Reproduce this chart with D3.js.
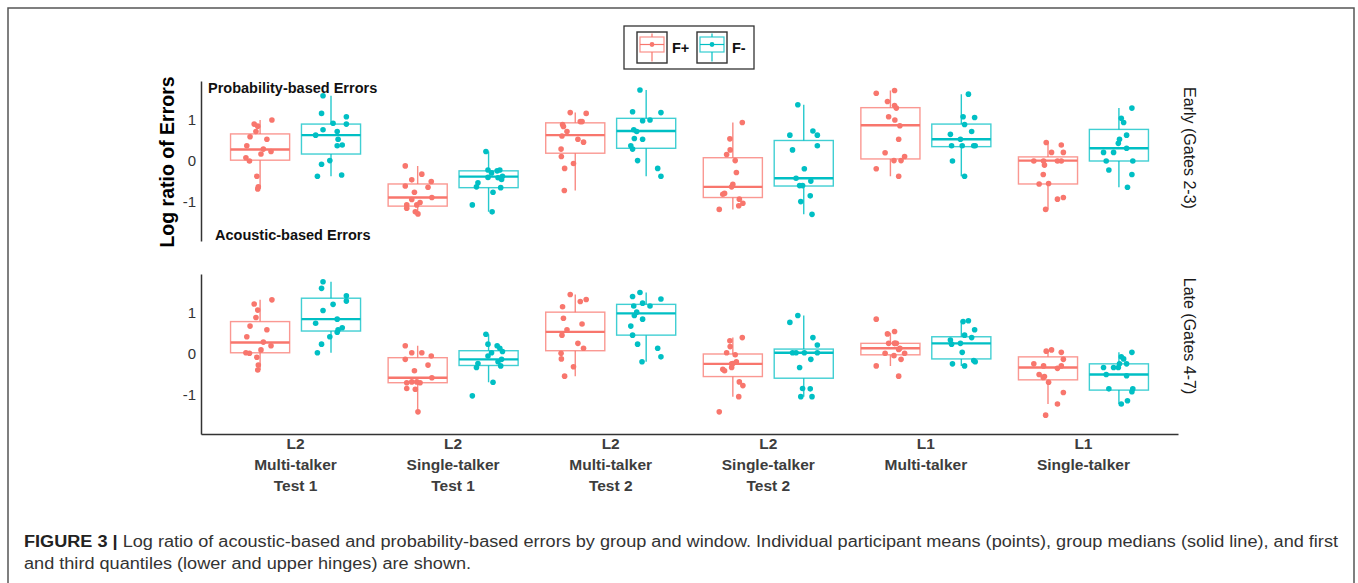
<!DOCTYPE html>
<html>
<head>
<meta charset="utf-8">
<script src="https://cdn.jsdelivr.net/npm/d3@7"></script>
<style>
  body { margin: 0; background: #fff; }
  text { font-family: "Liberation Sans", Arial, Helvetica, sans-serif; }
</style>
</head>
<body>
<script>
// categories on the x axis (multi-line labels)
const categories = [
  ["L2", "Multi-talker", "Test 1"],
  ["L2", "Single-talker", "Test 1"],
  ["L2", "Multi-talker", "Test 2"],
  ["L2", "Single-talker", "Test 2"],
  ["L1", "Multi-talker"],
  ["L1", "Single-talker"]
];
const groupNames = ["F+", "F-"];
const windowNames = ["Early (Gates 2-3)", "Late (Gates 4-7)"];
const yTicks = [-1, 0, 1];

// box stats per category: [lower whisker, q1, median, q3, upper whisker]
const earlyFplusStats = [
  [-0.68, 0.02, 0.28, 0.66, 1.0],
  [-1.29, -1.10, -0.89, -0.56, -0.12],
  [-0.72, 0.19, 0.63, 0.93, 1.18],
  [-1.18, -0.89, -0.63, 0.08, 0.94],
  [-0.37, 0.05, 0.87, 1.30, 1.72],
  [-1.18, -0.56, 0.01, 0.10, 0.45]
];
const earlyFminusStats = [
  [-0.37, 0.17, 0.63, 0.90, 1.59],
  [-1.24, -0.65, -0.38, -0.24, 0.23],
  [-0.37, 0.31, 0.73, 1.04, 1.73],
  [-1.30, -0.61, -0.42, 0.50, 1.37],
  [-0.37, 0.35, 0.53, 0.90, 1.63],
  [-0.64, 0.0, 0.31, 0.77, 1.29]
];
const lateFplusStats = [
  [-0.39, 0.03, 0.28, 0.79, 1.32],
  [-1.41, -0.70, -0.58, -0.09, 0.20],
  [-0.54, 0.08, 0.54, 1.02, 1.45],
  [-1.04, -0.55, -0.24, 0.0, 0.40],
  [-0.29, -0.02, 0.14, 0.26, 0.52],
  [-1.22, -0.63, -0.33, -0.07, 0.10]
];
const lateFminusStats = [
  [0.03, 0.56, 0.85, 1.36, 1.76],
  [-0.69, -0.28, -0.13, 0.08, 0.48],
  [-0.19, 0.46, 0.99, 1.21, 1.50],
  [-1.04, -0.59, 0.03, 0.12, 0.94],
  [-0.29, -0.12, 0.26, 0.42, 0.81],
  [-1.22, -0.88, -0.50, -0.24, 0.04]
];

// participant means per category
const earlyFplusPoints = [
  [1.0, 0.9, 0.85, 0.72, 0.59, 0.53, 0.37, 0.29, 0.23, 0.17, 0.08, 0.0, -0.37, -0.63, -0.68],
  [-0.12, -0.32, -0.46, -0.5, -0.61, -0.64, -0.76, -0.89, -0.94, -1.01, -1.07, -1.07, -1.15, -1.24, -1.29],
  [1.18, 1.16, 0.96, 0.89, 0.84, 0.96, 0.72, 0.61, 0.53, 0.46, 0.29, 0.11, -0.06, -0.18, -0.72],
  [0.94, 0.54, 0.27, 0.16, 0.01, -0.28, -0.57, -0.63, -0.79, -0.81, -0.93, -1.03, -1.09, -1.18],
  [1.65, 1.72, 1.45, 1.35, 1.29, 1.08, 1.0, 0.86, 0.53, 0.2, 0.11, 0.01, 0.01, -0.19, -0.37],
  [0.45, 0.39, 0.21, 0.21, 0, 0, 0, 0, -0.1, -0.33, -0.56, -0.55, -0.89, -0.93, -1.18]
];
const earlyFminusPoints = [
  [1.59, 1.16, 1.08, 0.92, 0.9, 0.76, 0.72, 0.63, 0.53, 0.39, 0.37, 0.01, -0.08, -0.37, -0.34],
  [0.23, -0.22, -0.24, -0.22, -0.29, -0.37, -0.4, -0.45, -0.41, -0.53, -0.63, -0.65, -0.76, -1.07, -1.24],
  [1.73, 1.2, 1.18, 0.98, 1.0, 0.76, 0.72, 0.55, 0.53, 0.37, 0.29, 0.01, -0.18, -0.37],
  [1.37, 0.63, 0.73, 0.63, 0.27, 0.37, -0.19, -0.42, -0.49, -0.6, -0.6, -0.85, -0.99, -1.3],
  [1.63, 1.08, 1.06, 0.89, 0.72, 0.65, 0.53, 0.37, 0.37, 0.37, 0.37, 0, -0.37],
  [1.29, 1.04, 0.94, 0.63, 0.53, 0.43, 0.21, 0.21, 0.31, 0, 0, -0.22, -0.33, -0.64]
];
const lateFplusPoints = [
  [1.32, 1.22, 1.07, 0.89, 0.68, 0.59, 0.42, 0.29, 0.2, 0.1, 0.03, 0.02, -0.08, -0.27, -0.39],
  [0.2, 0.03, 0.03, -0.05, -0.13, -0.27, -0.41, -0.58, -0.68, -0.7, -0.7, -0.68, -0.84, -0.86, -1.41],
  [1.45, 1.33, 1.28, 1.15, 0.87, 0.73, 0.59, 0.46, 0.26, 0.14, 0.02, -0.12, -0.31, -0.54],
  [0.4, 0.32, 0.18, 0.03, -0.02, -0.19, -0.23, -0.33, -0.41, -0.37, -0.68, -0.77, -1.04, -1.41, -0.24],
  [0.85, 0.55, 0.49, 0.26, 0.26, 0.26, 0.26, 0.14, 0.11, 0.02, 0.02, -0.13, -0.04, -0.29, -0.54],
  [0.07, 0.04, 0.1, -0.13, -0.24, -0.29, -0.35, -0.29, -0.55, -0.57, -0.5, -0.69, -0.94, -1.22, -1.49]
];
const lateFminusPoints = [
  [1.76, 1.6, 1.42, 1.21, 1.29, 1.06, 0.85, 0.75, 0.59, 0.64, 0.53, 0.42, 0.24, 0.03],
  [0.48, 0.24, 0.2, 0.14, 0.03, 0.06, -0.05, -0.13, -0.19, -0.23, -0.33, -0.29, -0.69, -1.02],
  [1.5, 1.4, 1.34, 1.24, 1.17, 1.17, 1.02, 0.94, 0.85, 0.68, 0.46, 0.24, 0.14, -0.07, -0.19],
  [0.94, 0.77, 0.4, 0.22, 0.03, 0.03, 0.03, 0.03, -0.13, -0.33, -0.84, -0.85, -1.04, -1.04],
  [0.81, 0.79, 0.59, 0.46, 0.4, 0.34, 0.26, 0.24, 0.04, -0.16, -0.19, -0.24, -0.29],
  [0.04, -0.07, -0.12, -0.24, -0.24, -0.33, -0.33, -0.33, -0.53, -0.5, -0.85, -0.85, -0.92, -1.14, -1.22]
];

// horizontal jitter of each point, as a fraction of the half box width
const fplusJitter = [
  [0.40, -0.20, -0.08, -0.14, -0.34, 0.23, -0.45, 0.11, 0.37, 0.03, -0.48, -0.36, -0.11, -0.06, -0.08],
  [-0.42, 0.14, -0.2, 0.46, -0.42, 0.35, -0.11, 0.48, -0.2, 0.08, -0.37, -0.03, -0.37, -0.08, 0.01],
  [-0.17, 0.37, 0.17, -0.43, -0.4, 0.23, -0.28, -0.45, 0.09, 0.28, -0.48, -0.47, -0.06, -0.36, -0.37],
  [0.32, -0.1, -0.09, -0.21, 0.08, 0.12, 0, -0.04, -0.28, -0.34, 0.22, 0.34, 0.2, -0.46, -0.04],
  [-0.48, 0.14, -0.1, 0.14, 0.2, -0.06, 0.15, 0.32, 0.28, -0.18, 0.48, 0.36, 0.12, -0.48, 0.28],
  [-0.06, 0.45, 0.12, 0.52, -0.48, -0.15, 0.32, 0.45, -0.12, -0.16, -0.3, 0.02, 0.52, 0.32, -0.08]
];
const fminusJitter = [
  [-0.27, -0.32, 0.52, 0.07, 0.52, -0.27, 0.21, -0.52, 0.24, 0.38, 0.21, -0.04, -0.32, -0.46, 0.36],
  [-0.09, -0.02, 0.29, 0.38, 0.1, 0.47, -0.02, 0.44, 0.32, -0.36, -0.41, 0.41, 0.15, -0.55, 0.12],
  [-0.21, -0.46, 0.5, -0.12, 0.13, -0.42, -0.32, -0.4, -0.12, -0.52, -0.46, -0.29, 0.39, 0.5, -0.14],
  [-0.2, -0.47, 0.31, 0.46, -0.38, 0.46, 0.02, -0.26, 0.24, -0.14, -0.04, 0.22, -0.1, 0.28],
  [0.24, 0.06, 0.45, 0.11, 0.35, -0.37, -0.03, -0.33, 0.03, 0.42, 0.47, -0.3, 0.11],
  [0.44, 0.08, 0.16, 0.26, 0.02, -0.02, -0.52, -0.18, 0.26, -0.43, 0.47, -0.34, 0.44, 0.29, 0.08]
];

var width = 1358, height = 583;
var colors = d3.scaleOrdinal().domain(groupNames).range(["#F8766D", "#00BFC4"]);

var svg = d3.select("body").append("svg")
  .attr("width", width)
  .attr("height", height);

svg.append("rect").attr("width", width).attr("height", height).attr("fill", "#fff");

// figure frame
svg.append("rect")
  .attr("x", 8).attr("y", 8)
  .attr("width", 1346).attr("height", 600)
  .attr("fill", "none")
  .attr("stroke", "#555")
  .attr("stroke-width", 1.5);

var x = d3.scalePoint()
  .domain(d3.range(categories.length))
  .range([201, 1178])
  .padding(0.6);
var step = x.step();
var dodge = d3.scalePoint().domain(groupNames).range([-0.225 * step, 0.225 * step]);
var boxW = 0.375 * step;

var panels = [
  { name: windowNames[0], top: 81, stripY: 148,
    stats: [earlyFplusStats, earlyFminusStats], points: [earlyFplusPoints, earlyFminusPoints] },
  { name: windowNames[1], top: 274, stripY: 336,
    stats: [lateFplusStats, lateFminusStats], points: [lateFplusPoints, lateFminusPoints] }
];
var jitters = [fplusJitter, fminusJitter];
var panelH = 160;

panels.forEach(function (p, pi) {
  var y = d3.scaleLinear().domain([-1.95, 1.95]).range([p.top + panelH, p.top]);
  var g = svg.append("g");

  var yAxis = g.append("g")
    .attr("transform", "translate(201,0)")
    .call(d3.axisLeft(y).tickValues(yTicks).tickSize(0).tickSizeOuter(0).tickPadding(5)
      .tickFormat(function (d) { return String(d); }));
  yAxis.select(".domain").attr("stroke", "#333").attr("stroke-width", 1.5);
  yAxis.selectAll("text")
    .style("font-family", "'Liberation Sans', Arial, sans-serif")
    .style("font-size", "15px")
    .attr("fill", "#333");

  if (pi == 1) {
    var xAxis = g.append("g")
      .attr("transform", "translate(0," + (p.top + panelH) + ")")
      .call(d3.axisBottom(x).tickSize(0).tickSizeOuter(0).tickFormat(""));
    xAxis.select(".domain").attr("stroke", "#333").attr("stroke-width", 1.5);

    var lab = g.selectAll(".xlab")
      .data(categories)
      .enter().append("text")
      .attr("class", "xlab")
      .attr("text-anchor", "middle")
      .attr("font-size", "15.5px")
      .attr("font-weight", "bold")
      .attr("fill", "#3d3d3d");
    lab.selectAll("tspan")
      .data(function (d, i) { return d.map(function (s) { return { s: s, i: i }; }); })
      .enter().append("tspan")
      .attr("x", function (d) { return x(d.i); })
      .attr("y", function (d, j) { return 449 + j * 21; })
      .text(function (d) { return d.s; });
  }

  groupNames.forEach(function (gname, gi) {
    var col = colors(gname);
    var stats = p.stats[gi];
    var bx = g.append("g");

    // whiskers
    bx.selectAll(".whi")
      .data(stats)
      .enter().append("path")
      .attr("d", function (d, i) {
        var cx = x(i) + dodge(gname);
        return "M" + cx + "," + y(d[4]) + "V" + y(d[3]) + "M" + cx + "," + y(d[1]) + "V" + y(d[0]);
      })
      .attr("stroke", col)
      .attr("stroke-opacity", 0.85)
      .attr("stroke-width", 1.4)
      .attr("fill", "none");

    bx.selectAll(".box")
      .data(stats)
      .enter().append("rect")
      .attr("x", function (d, i) { return x(i) + dodge(gname) - boxW / 2; })
      .attr("y", function (d) { return y(d[3]); })
      .attr("width", boxW)
      .attr("height", function (d) { return y(d[1]) - y(d[3]); })
      .attr("fill", "none")
      .attr("stroke", col)
      .attr("stroke-opacity", 0.75)
      .attr("stroke-width", 1.4);

    bx.selectAll(".med")
      .data(stats)
      .enter().append("line")
      .attr("x1", function (d, i) { return x(i) + dodge(gname) - boxW / 2; })
      .attr("x2", function (d, i) { return x(i) + dodge(gname) + boxW / 2; })
      .attr("y1", function (d) { return y(d[2]); })
      .attr("y2", function (d) { return y(d[2]); })
      .attr("stroke", col)
      .attr("stroke-width", 2.4);

    // participant points
    var pts = [];
    p.points[gi].forEach(function (vals, i) {
      vals.forEach(function (v, k) {
        pts.push({ i: i, v: v, j: jitters[gi][i][k] || 0 });
      });
    });
    bx.selectAll("circle")
      .data(pts)
      .enter().append("circle")
      .attr("cx", function (d) { return x(d.i) + dodge(gname) + d.j * boxW / 2; })
      .attr("cy", function (d) { return y(d.v); })
      .attr("r", 2.8)
      .attr("fill", col);
  });

  // facet strip label
  g.append("text")
    .attr("transform", "translate(1184," + p.stripY + ") rotate(90)")
    .attr("text-anchor", "middle")
    .attr("font-size", "16px")
    .attr("fill", "#1a1a1a")
    .text(p.name);
});

// annotations in top panel
svg.append("text").attr("x", 208).attr("y", 93)
  .attr("font-size", "14.5px").attr("font-weight", "bold").attr("fill", "#111")
  .text("Probability-based Errors");
svg.append("text").attr("x", 215).attr("y", 240)
  .attr("font-size", "14.5px").attr("font-weight", "bold").attr("fill", "#111")
  .text("Acoustic-based Errors");

// y axis title
svg.append("text")
  .attr("transform", "translate(174,162) rotate(-90)")
  .attr("text-anchor", "middle")
  .attr("font-size", "19.5px")
  .attr("font-weight", "bold")
  .attr("fill", "#000")
  .text("Log ratio of Errors");

// legend
var legend = svg.append("g");
legend.append("rect")
  .attr("x", 624).attr("y", 26).attr("width", 130).attr("height", 43)
  .attr("fill", "#fff").attr("stroke", "#333").attr("stroke-width", 1.3);
var keyX = d3.scaleOrdinal().domain(groupNames).range([637, 697]);
groupNames.forEach(function (gname) {
  var kx = keyX(gname), col = colors(gname);
  var k = legend.append("g").attr("transform", "translate(" + kx + ",32)");
  k.append("rect").attr("width", 30).attr("height", 31)
    .attr("fill", "#fff").attr("stroke", "#333").attr("stroke-width", 1.4);
  k.append("path").attr("d", "M15,1.5V5M15,20V29.5")
    .attr("stroke", col).attr("stroke-width", 1.2);
  k.append("rect").attr("x", 3).attr("y", 5).attr("width", 24).attr("height", 15)
    .attr("fill", "none").attr("stroke", col).attr("stroke-opacity", 0.8).attr("stroke-width", 1.2);
  k.append("line").attr("x1", 3).attr("x2", 27).attr("y1", 12.5).attr("y2", 12.5)
    .attr("stroke", col).attr("stroke-width", 1.2);
  k.append("circle").attr("cx", 15).attr("cy", 12.5).attr("r", 2.4).attr("fill", col);
  legend.append("text").attr("x", kx + 35).attr("y", 53)
    .attr("font-size", "14.5px").attr("font-weight", "bold").attr("fill", "#111")
    .text(gname);
});

// caption
var cap1 = svg.append("text").attr("x", 24).attr("y", 547)
  .attr("font-size", "16px").attr("fill", "#333");
cap1.append("tspan").attr("font-weight", "bold").attr("fill", "#222").text("FIGURE 3 | ");
cap1.append("tspan").text("Log ratio of acoustic-based and probability-based errors by group and window. Individual participant means (points), group medians (solid line), and first");
var cap2 = svg.append("text").attr("x", 24).attr("y", 569)
  .attr("font-size", "16px").attr("fill", "#333")
  .text("and third quantiles (lower and upper hinges) are shown.");

var len1 = cap1.node().getComputedTextLength();
var len2 = cap2.node().getComputedTextLength();
var k = (1338 - 24) / len1;
cap1.attr("textLength", len1 * k).attr("lengthAdjust", "spacingAndGlyphs");
cap2.attr("textLength", len2 * k).attr("lengthAdjust", "spacingAndGlyphs");
</script>
</body>
</html>
